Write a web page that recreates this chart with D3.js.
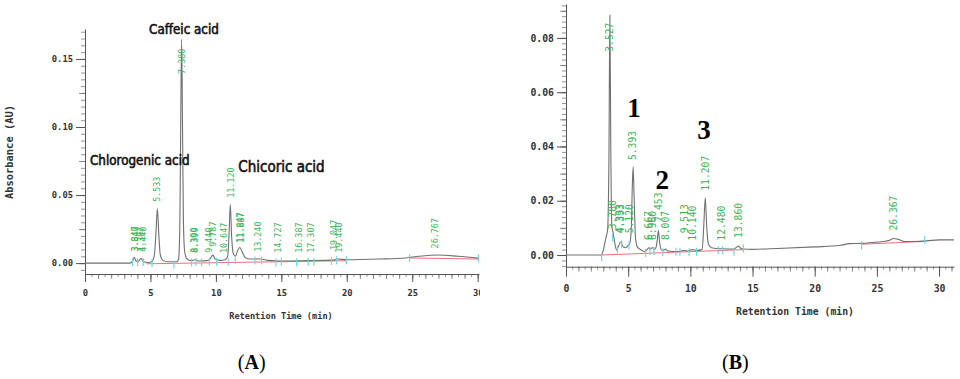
<!DOCTYPE html>
<html><head><meta charset="utf-8">
<script src="https://cdn.jsdelivr.net/npm/d3@7"></script>
<style>body{margin:0;background:#fff}svg{display:block}</style>
</head><body><svg id="c" width="960" height="379"></svg>
<script>
// ---------- DATA ----------
// Panel A chromatogram [time (min), absorbance (AU)]
const traceA = [[0,0],[3.4,0],[3.6,0.001],[3.76,0.0042],[3.9,0.0015],[4.05,0.001],[4.28,0.0035],[4.45,0.0012],[4.8,0.0005],[5.1,0.001],[5.3,0.006],[5.42,0.022],[5.53,0.040],[5.64,0.021],[5.75,0.006],[5.95,0.002],[6.3,0.001],[7.0,0.001],[7.15,0.003],[7.25,0.03],[7.31,0.1],[7.38,0.1645],[7.45,0.1],[7.52,0.03],[7.62,0.008],[7.8,0.003],[8.1,0.0018],[8.4,0.0025],[8.7,0.0015],[9.3,0.0018],[9.55,0.003],[9.77,0.0059],[9.95,0.003],[10.3,0.002],[10.7,0.0025],[10.9,0.005],[11.0,0.02],[11.1,0.043],[11.2,0.02],[11.33,0.007],[11.5,0.005],[11.65,0.009],[11.83,0.0115],[12.0,0.0085],[12.25,0.004],[12.6,0.003],[13.4,0.003],[14,0.002],[15,0.0015],[17,0.0018],[19,0.0022],[19.3,0.003],[20,0.0025],[22.5,0.003],[24.5,0.0038],[25.5,0.005],[27,0.006],[28.5,0.005],[30.1,0.0035]];
const baselineA = [[[4.7,-0.0005],[20.0,0.0018]],[[24.8,0.0038],[30.1,0.003]]];
const labelTimesA = [3.840,3.847,4.307,4.440,5.533,7.380,8.300,8.399,9.440,9.787,10.647,11.120,11.847,11.887,13.240,14.727,16.387,17.307,19.047,19.440,26.767];
const labelLevelsA = [0.0085,0.0085,0.0083,0.0083,0.045,0.139,0.0076,0.0076,0.0076,0.012,0.0074,0.048,0.015,0.015,0.0083,0.0076,0.0076,0.0076,0.0096,0.0076,0.0108];
const marksA = [[3.64,0.0008],[4.02,0.0008],[4.45,0.0008],[5.12,0.0],[6.79,-0.001],[8.14,0.0005],[8.47,0.001],[8.9,0.0005],[9.5,0.001],[10.05,0.001],[10.94,0.001],[11.48,0.0025],[12.98,0.002],[13.49,0.002],[14.58,0.0005],[15.0,0.001],[16.16,0.0005],[17.05,0.001],[17.48,0.001],[18.83,0.0015],[19.22,0.002],[19.97,0.002],[24.8,0.0035],[30.05,0.0035]];
const compoundsA = [["Caffeic acid",7.56,0.1685,"middle",13.3],["Chlorogenic acid",0.38,0.0721,"start",13.3],["Chicoric acid",11.71,0.0667,"start",15]];
const yTicksA = [0,0.05,0.10,0.15];
const xTicksA = [0,5,10,15,20,25,30];

// Panel B chromatogram
const traceB = [[0,0],[2.85,0],[3.0,0.0018],[3.2,0.0062],[3.35,0.0095],[3.45,0.035],[3.53,0.0884],[3.6,0.04],[3.68,0.011],[3.8,0.008],[3.92,0.0045],[4.08,0.0018],[4.2,0.003],[4.4,0.0049],[4.6,0.003],[4.8,0.0027],[5.0,0.0035],[5.14,0.0045],[5.25,0.01],[5.33,0.025],[5.40,0.0325],[5.48,0.021],[5.58,0.007],[5.73,0.003],[6.0,0.002],[6.35,0.0012],[6.55,0.0022],[6.67,0.0027],[6.8,0.0022],[6.96,0.0028],[7.1,0.002],[7.25,0.003],[7.35,0.006],[7.43,0.009],[7.52,0.005],[7.65,0.002],[7.85,0.0017],[8.0,0.0022],[8.2,0.0015],[9.0,0.0013],[9.5,0.0017],[9.8,0.0015],[10.15,0.002],[10.5,0.0017],[10.95,0.002],[11.07,0.01],[11.2,0.0211],[11.32,0.01],[11.45,0.004],[11.7,0.0027],[12.5,0.0023],[13.5,0.0022],[13.85,0.0033],[14.1,0.0023],[15,0.0021],[17,0.0024],[20,0.003],[22,0.0035],[22.8,0.0042],[23.8,0.0043],[24.6,0.0046],[25.5,0.005],[26.0,0.0054],[26.35,0.0061],[26.7,0.0058],[27.2,0.005],[28,0.005],[29,0.0052],[30,0.0056],[31.2,0.0056]];
const baselineB = [[[2.85,0],[14.3,0.002]],[[23.8,0.0040],[28.8,0.0050]]];
const labelTimesB = [3.527,3.780,4.333,4.393,5.120,5.393,6.667,6.960,7.453,8.007,9.513,10.140,11.207,12.480,13.860,26.367];
const labelLevelsB = [0.0749,0.0095,0.008,0.008,0.008,0.035,0.0055,0.0055,0.0123,0.0055,0.008,0.0053,0.0237,0.0053,0.0063,0.009];
const marksB = [[2.87,-0.0008],[3.75,0.0064],[4.13,0.002],[4.48,0.004],[5.06,0.0035],[6.4,0.0008],[6.75,0.0015],[7.07,0.0015],[7.78,0.001],[8.84,0.0012],[9.16,0.0012],[9.9,0.001],[10.5,0.0012],[12.24,0.0018],[12.6,0.0018],[13.5,0.0012],[14.26,0.0025],[23.77,0.0035],[28.85,0.0055]];
const compoundsB = [["1",5.47,0.0507],["2",7.74,0.0243],["3",11.09,0.0426]];
const yTicksB = [0,0.02,0.04,0.06,0.08];
const xTicksB = [0,5,10,15,20,25,30];

// ---------- DRAW ----------
const svg = d3.select("#c");
svg.append("rect").attr("width",960).attr("height",379).attr("fill","#fff");
const MONO = "'DejaVu Sans Mono','Liberation Mono',monospace";
const fmt3 = d3.format(".3f");

function panel(cfg){
  const g = svg.append("g");
  if(cfg.clip){
    svg.append("clipPath").attr("id",cfg.id+"clip").append("rect").attr("x",cfg.clip[0]).attr("y",0).attr("width",cfg.clip[1]-cfg.clip[0]).attr("height",379);
    g.attr("clip-path","url(#"+cfg.id+"clip)");
  }
  const x = d3.scaleLinear().domain(cfg.xDom).range(cfg.xRange);
  const y = d3.scaleLinear().domain(cfg.yDom).range(cfg.yRange);
  const axisCol = "#555";
  const yMinor = d3.range(cfg.yDom[0] < 0 ? Math.ceil(cfg.yDom[0]/cfg.yMinorStep)*cfg.yMinorStep : 0, cfg.yDom[1], cfg.yMinorStep);
  g.append("g").attr("transform",`translate(${cfg.xRange[0]},0)`)
    .call(d3.axisLeft(y).tickValues(yMinor.filter(v=>v>=cfg.yDom[0])).tickSize(cfg.yMinorLen).tickFormat(""))
    .call(s=>{s.select(".domain").remove(); s.selectAll("line").attr("stroke","#777").attr("stroke-width",0.8);});
  const yMid = d3.range(0, cfg.yDom[1], cfg.yMidStep);
  g.append("g").attr("transform",`translate(${cfg.xRange[0]},0)`)
    .call(d3.axisLeft(y).tickValues(yMid).tickSize(cfg.yMidLen).tickFormat(""))
    .call(s=>{s.select(".domain").remove(); s.selectAll("line").attr("stroke","#777").attr("stroke-width",0.8);});
  g.append("g").attr("transform",`translate(${cfg.xRange[0]},0)`)
    .call(d3.axisLeft(y).tickValues(cfg.yTicks).tickSize(cfg.yMajorLen).tickSizeOuter(0).tickPadding(3).tickFormat(d3.format(".2f")))
    .call(s=>{s.select(".domain").attr("stroke",axisCol);
      s.selectAll("line").attr("stroke",axisCol);
      s.selectAll("text").attr("font-family",MONO).attr("font-weight","bold").attr("font-size",cfg.tickFont).attr("fill","#333");});
  const xm = cfg.yRange[0];
  const xHalf = d3.range(0, cfg.xDom[1]+1e-9, 0.5);
  g.append("g").attr("transform",`translate(0,${xm})`)
    .call(d3.axisBottom(x).tickValues(xHalf).tickSize(cfg.xHalfLen).tickFormat(""))
    .call(s=>{s.select(".domain").remove(); s.selectAll("line").attr("stroke","#777").attr("stroke-width",0.8);});
  const xOne = d3.range(0, cfg.xDom[1]+1e-9, 1);
  g.append("g").attr("transform",`translate(0,${xm})`)
    .call(d3.axisBottom(x).tickValues(xOne).tickSize(cfg.xOneLen).tickFormat(""))
    .call(s=>{s.select(".domain").remove(); s.selectAll("line").attr("stroke","#777").attr("stroke-width",0.8);});
  g.append("g").attr("transform",`translate(0,${xm})`)
    .call(d3.axisBottom(x).tickValues(cfg.xTicks).tickSize(cfg.xMajorLen).tickSizeOuter(0).tickPadding(cfg.xPad).tickFormat(d3.format("d")))
    .call(s=>{s.select(".domain").attr("stroke",axisCol);
      s.selectAll("line").attr("stroke",axisCol);
      s.selectAll("text").attr("font-family",MONO).attr("font-weight","bold").attr("font-size",cfg.tickFont).attr("fill","#333");});
  const line = d3.line().x(d=>x(d[0])).y(d=>y(d[1]));
  cfg.baseline.forEach(seg=>{
    g.append("path").attr("d",line(seg)).attr("fill","none").attr("stroke","#f07070").attr("stroke-width",1);
  });
  g.append("path").datum(cfg.trace)
    .attr("d",d3.line().x(d=>x(d[0])).y(d=>y(d[1])).curve(d3.curveMonotoneX))
    .attr("fill","none").attr("stroke","#707070").attr("stroke-width",1.1);
  g.selectAll(null).data(cfg.marks).join("line")
    .attr("x1",d=>x(d[0])).attr("x2",d=>x(d[0]))
    .attr("y1",d=>y(d[1])-4).attr("y2",d=>y(d[1])+4)
    .attr("stroke","#6fd6e6").attr("stroke-width",1.2);
  g.selectAll(null).data(cfg.labelTimes).join("text")
    .attr("transform",(d,i)=>`translate(${x(d)},${y(cfg.labelLevels[i])}) rotate(-90)`)
    .attr("dy","0.35em")
    .attr("font-family",MONO).attr("font-size",cfg.labelFont).attr("fill","#3db35a")
    .text(d=>fmt3(d));
  return {g,x,y};
}

const A = panel({id:"A", clip:[0,480], xDom:[0,30.1], xRange:[85,479], yDom:[-0.008,0.172], yRange:[274,29],
  yTicks:yTicksA, xTicks:xTicksA, yMinorStep:0.005, yMidStep:0.025, yMinorLen:4, yMidLen:6, yMajorLen:9,
  xHalfLen:3, xOneLen:5, xMajorLen:8, xPad:8, tickFont:"8.8px", labelFont:"8.4px",
  trace:traceA, baseline:baselineA, marks:marksA, labelTimes:labelTimesA, labelLevels:labelLevelsA});

const B = panel({id:"B", xDom:[0,31.2], xRange:[566,954], yDom:[-0.0043,0.0925], yRange:[266.7,4],
  yTicks:yTicksB, xTicks:xTicksB, yMinorStep:0.002, yMidStep:0.01, yMinorLen:4, yMidLen:6, yMajorLen:9,
  xHalfLen:3, xOneLen:5, xMajorLen:10, xPad:8, tickFont:"9.8px", labelFont:"9.7px",
  trace:traceB, baseline:baselineB, marks:marksB, labelTimes:labelTimesB, labelLevels:labelLevelsB});

A.g.selectAll(null).data(compoundsA).join("text")
  .attr("x",d=>A.x(d[1])).attr("y",d=>A.y(d[2]))
  .attr("text-anchor",d=>d[3]).attr("font-size",d=>d[4]+"px")
  .attr("font-family","'Liberation Sans Narrow','DejaVu Sans Condensed',sans-serif")
  .attr("fill","#111").attr("stroke","#111").attr("stroke-width",0.55)
  .text(d=>d[0]);
B.g.selectAll(null).data(compoundsB).join("text")
  .attr("x",d=>B.x(d[1])).attr("y",d=>B.y(d[2]))
  .attr("text-anchor","middle").attr("font-size","27px").attr("font-weight","bold")
  .attr("font-family","'Liberation Serif','DejaVu Serif',serif").attr("fill","#000")
  .text(d=>d[0]);

svg.append("text").attr("transform","translate(12.5,152) rotate(-90)").attr("text-anchor","middle")
  .attr("font-family",MONO).attr("font-weight","bold").attr("font-size","10.4px").attr("fill","#333")
  .text("Absorbance (AU)");
svg.append("text").attr("x",281).attr("y",319).attr("text-anchor","middle")
  .attr("font-family",MONO).attr("font-weight","bold").attr("font-size","8.6px").attr("fill","#333")
  .text("Retention Time (min)");
svg.append("text").attr("x",795).attr("y",315).attr("text-anchor","middle")
  .attr("font-family",MONO).attr("font-weight","bold").attr("font-size","9.8px").attr("fill","#333")
  .text("Retention Time (min)");

[["A",251.7],["B",735.3]].forEach(([L,cx])=>{
  const t = svg.append("text").attr("x",cx).attr("y",369).attr("text-anchor","middle")
    .attr("font-family","'Liberation Serif','DejaVu Serif',serif").attr("font-size","20px").attr("fill","#000");
  t.append("tspan").text("(");
  t.append("tspan").attr("font-weight","bold").text(L);
  t.append("tspan").text(")");
});
</script></body></html>
